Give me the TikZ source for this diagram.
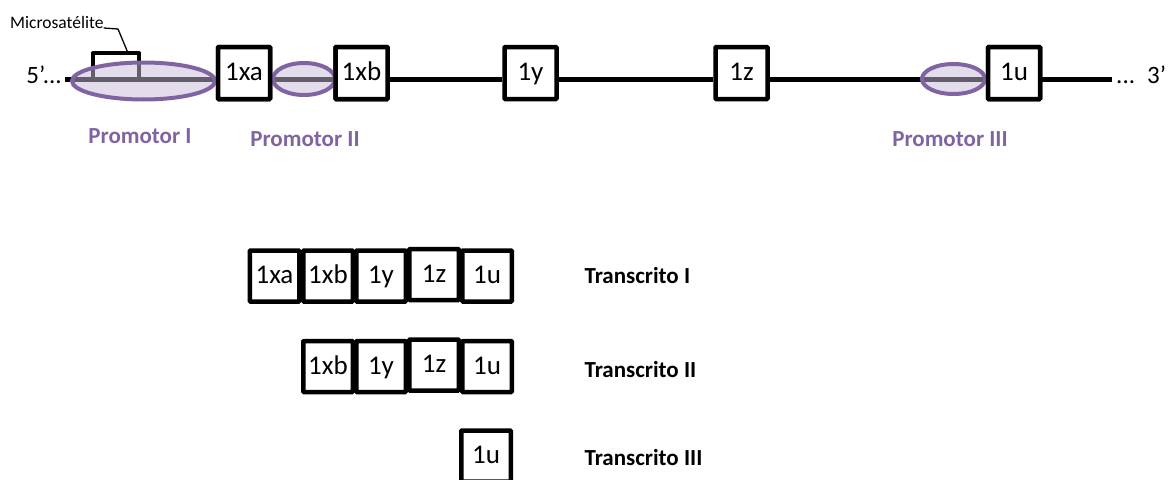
\documentclass[tikz,border=0pt]{standalone}
\usepackage{fontspec}
\setmainfont{Carlito}
\usetikzlibrary{shapes.geometric}
\definecolor{promo}{RGB}{128,100,162}
\definecolor{promofill}{RGB}{200,186,214}
\begin{document}
\begin{tikzpicture}[x=1pt,y=-1pt,
  exon/.style={draw=black, line width=4.5pt, rounded corners=0.8pt, fill=white,
    minimum width=52pt, minimum height=52pt, inner sep=0pt,
    text height=17pt, text depth=2pt, font=\fontsize{27}{30}\selectfont},
  sexon/.style={exon, minimum width=49.5pt, minimum height=51pt},
  dna/.style={line width=5pt, black},
  promoter/.style={ellipse, draw=promo, line width=4pt, fill=promofill, fill opacity=0.5, inner sep=0pt},
  plabel/.style={text=promo, font=\bfseries\fontsize{23}{26}\selectfont, anchor=base},
  tlabel/.style={text=black, font=\bfseries\fontsize{23}{26}\selectfont, anchor=base west},
  endlabel/.style={font=\fontsize{25}{28}\selectfont, inner sep=0pt}
]
\useasboundingbox (0,0) rectangle (1169,479);

% strand ends
\coordinate (s) at (65,79);
\coordinate (e) at (1112,79);
\node[endlabel, anchor=base east] (five) at (62,83) {5’...};
\node[endlabel, anchor=base west] (dots) at (1116,83) {...};
\node[endlabel, anchor=base west] (three) at (1147,83) {3’};

% top exons
\node[exon] (xa) at (244,73) {1xa};
\node[exon] (xb) at (361.5,73) {1xb};
\node[exon] (y) at (530.5,73) {1y};
\node[exon] (z) at (741.5,73) {1z};
\node[exon] (u) at (1014,73) {1u};

% DNA line
\draw[dna] (s) -- (xa.west |- s);
\draw[dna] (xa.east |- s) -- (xb.west |- s);
\draw[dna] (xb.east |- s) -- (y.west |- s);
\draw[dna] (y.east |- s) -- (z.west |- s);
\draw[dna] (z.east |- s) -- (u.west |- s);
\draw[dna] (u.east |- s) -- (e);

% microsatellite bracket
\coordinate (m1) at (93,79);
\coordinate (m2) at (139,79);
\draw[line width=4pt, line join=round] (m1) -- (93,53) -- (139,53) -- (m2);
\node[font=\fontsize{17.5}{20}\selectfont, anchor=base west, inner sep=0pt] (micro) at (10,28) {Microsatélite};
\coordinate (mt) at (128,53);
\draw[line width=1.3pt] (mt) -- (118,29) -- (micro.base east);

% promoters
\node[promoter, minimum width=143pt, minimum height=37pt] (p1) at (143.5,81) {};
\node[promoter, minimum width=62pt, minimum height=32pt] (p2) at (304,79) {};
\node[promoter, minimum width=63pt, minimum height=30pt] (p3) at (953.5,79) {};

% redraw exons on top
\node[exon] at (xa) {1xa};
\node[exon] at (xb) {1xb};
\node[exon] at (u) {1u};

\node[plabel] (l1) at (140,143) {Promotor I};
\node[plabel] (l2) at (305,146) {Promotor II};
\node[plabel] (l3) at (950,146) {Promotor III};

% transcript I
\node[sexon] (t1xa) at (274.5,276) {1xa};
\node[sexon] (t1xb) at (328,276) {1xb};
\node[sexon] (t1y) at (381,276) {1y};
\node[sexon, yshift=1.5pt] (t1z) at (434,276) {1z};
\node[sexon] (t1u) at (487,276) {1u};
\node[tlabel] (tr1) at (581,283.5) {Transcrito I};

% transcript II
\node[sexon] (t2xb) at (328,366.5) {1xb};
\node[sexon] (t2y) at (381,366.5) {1y};
\node[sexon, yshift=1.5pt] (t2z) at (434,366.5) {1z};
\node[sexon] (t2u) at (487,366.5) {1u};
\node[tlabel] (tr2) at (581,377.5) {Transcrito II};

% transcript III
\node[sexon] (t3u) at (486,456) {1u};
\node[tlabel] (tr3) at (581,465.5) {Transcrito III};
\end{tikzpicture}
\end{document}
